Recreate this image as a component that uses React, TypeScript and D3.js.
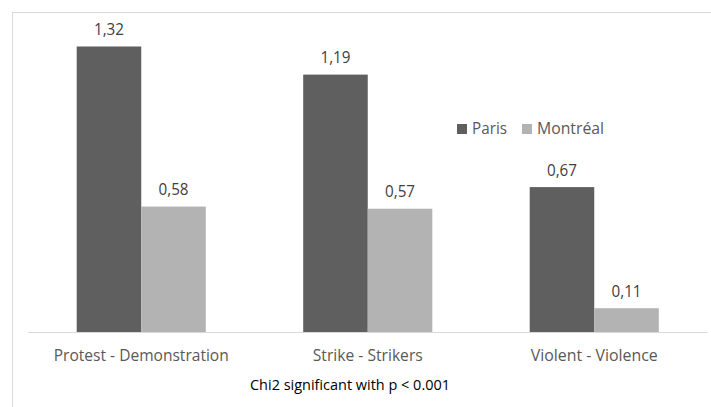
import React from "react";
import * as d3 from "d3";

const categories = ["Protest - Demonstration", "Strike - Strikers", "Violent - Violence"];
const seriesNames = ["Paris", "Montréal"];
const parisValues = [1.32, 1.19, 0.67];
const montrealValues = [0.58, 0.57, 0.11];
const footnote = "Chi2 significant with p < 0.001";

const colors = ["#5f5f5f", "#b3b3b3"];
const FONT = "'Open Sans', 'Liberation Sans', sans-serif";

export default function App() {
  const W = 711, H = 407;
  const baseY = 332;
  const x = d3.scaleBand<string>().domain(categories).range([28, 707.5]).paddingInner(0.43).paddingOuter(0.215);
  const xs = d3.scaleBand<string>().domain(seriesNames).range([0, x.bandwidth()]);
  const y = d3.scaleLinear().domain([0, 1.32]).range([baseY, 46.5]);
  const series = [parisValues, montrealValues];
  const fmt = (v: number) => d3.format(".2f")(v).replace(".", ",");
  const catLen = [175, 110, 127];
  const valLen = 30;

  return (
    <svg width={W} height={H} style={{ position: "absolute", left: 0, top: 0, background: "#fff" }}>
      <rect x={12.5} y={12.5} width={W + 20} height={H + 20} fill="#fff" stroke="#d9d9d9" strokeWidth={1} />
      <line x1={28} x2={707.5} y1={baseY + 0.5} y2={baseY + 0.5} stroke="#d9d9d9" strokeWidth={1} />
      {categories.map((c, i) => (
        <g key={c} transform={`translate(${x(c)},0)`}>
          {seriesNames.map((s, j) => {
            const v = series[j][i];
            const bx = xs(s)!;
            return (
              <g key={s}>
                <rect x={bx} y={y(v)} width={xs.bandwidth()} height={baseY - y(v)} fill={colors[j]} />
                <text x={bx + xs.bandwidth() / 2} y={y(v) - 11.5} textAnchor="middle" fontFamily={FONT} fontSize={15.5} fill="#404040" textLength={valLen} lengthAdjust="spacingAndGlyphs">
                  {fmt(v)}
                </text>
              </g>
            );
          })}
          <text x={x.bandwidth() / 2} y={361} textAnchor="middle" fontFamily={FONT} fontSize={15.5} fill="#595959" textLength={catLen[i]} lengthAdjust="spacingAndGlyphs">
            {c}
          </text>
        </g>
      ))}
      <g>
        <rect x={457} y={124} width={10} height={10} fill={colors[0]} />
        <text x={472} y={134} fontFamily={FONT} fontSize={15.5} fill="#595959" textLength={35} lengthAdjust="spacingAndGlyphs">{seriesNames[0]}</text>
        <rect x={522} y={124} width={10} height={10} fill={colors[1]} />
        <text x={537} y={134} fontFamily={FONT} fontSize={15.5} fill="#595959" textLength={67} lengthAdjust="spacingAndGlyphs">{seriesNames[1]}</text>
      </g>
      <text x={350} y={390} textAnchor="middle" fontFamily={FONT} fontSize={14} fill="#000" textLength={200} lengthAdjust="spacingAndGlyphs">
        {footnote}
      </text>
    </svg>
  );
}
